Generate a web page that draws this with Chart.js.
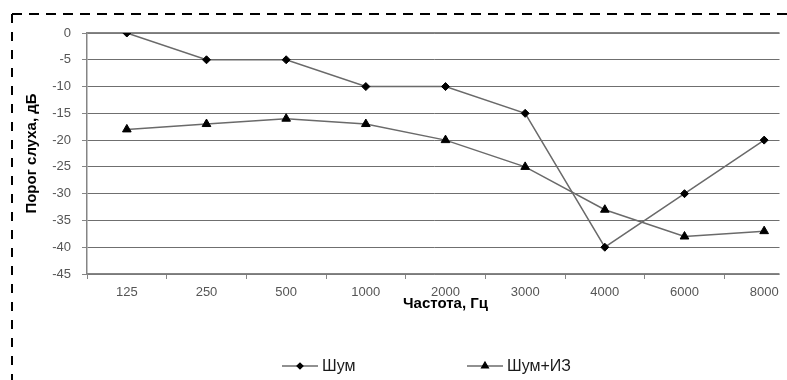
<!DOCTYPE html>
<html>
<head>
<meta charset="utf-8">
<script src="https://cdn.jsdelivr.net/npm/chart.js@4.4.1/dist/chart.umd.min.js"></script>
<style>
  html, body { margin: 0; padding: 0; background: #fff; }
  #wrap { width: 787px; height: 380px; overflow: hidden; position: relative; background: #fff; }
  #c { display: block; }
</style>
</head>
<body>
<div id="wrap"><canvas id="c" width="830" height="380"></canvas></div>
<script>
// Audiogram: hearing threshold by frequency, two conditions
const frequencies = ['125', '250', '500', '1000', '2000', '3000', '4000', '6000', '8000'];
const noise = [0, -5, -5, -10, -10, -15, -40, -30, -20];
const noisePlusIz = [-18, -17, -16, -17, -20, -25, -33, -38, -37];
const seriesNames = ['Шум', 'Шум+ИЗ'];

const FONT = '"Liberation Sans", Arial, sans-serif';
const AXIS_GREY = '#858585';
const LABEL_GREY = '#555555';
const LINE_GREY = '#6a6a6a';

// Plot region stops short of the last category's right edge
const CLIP_RIGHT = 779.5;

const framePlugin = {
  id: 'frame',
  beforeDraw(chart) {
    const ctx = chart.ctx;
    ctx.save();
    ctx.beginPath();
    ctx.rect(0, 0, CLIP_RIGHT, chart.height);
    ctx.clip();
  },
  afterDraw(chart) {
    const ctx = chart.ctx;
    ctx.restore();

    // dashed outer frame (top and left edges)
    ctx.save();
    ctx.strokeStyle = '#000';
    ctx.lineWidth = 2;
    ctx.setLineDash([10, 7]);
    ctx.beginPath();
    ctx.moveTo(12, 14);
    ctx.lineTo(chart.width, 14);
    ctx.stroke();
    ctx.setLineDash([9, 9]);
    ctx.beginPath();
    ctx.moveTo(12, 14);
    ctx.lineTo(12, chart.height);
    ctx.stroke();
    ctx.restore();

    // legend: line sample with marker, then series name
    const items = [
      { x0: 282, x1: 318, tx: 322 },
      { x0: 467, x1: 503, tx: 507 }
    ];
    const y = 366;
    ctx.save();
    chart.data.datasets.forEach((ds, i) => {
      const it = items[i];
      ctx.strokeStyle = '#222';
      ctx.lineWidth = 1.2;
      ctx.beginPath();
      ctx.moveTo(it.x0, y);
      ctx.lineTo(it.x1, y);
      ctx.stroke();
      ctx.fillStyle = '#000';
      ctx.strokeStyle = '#000';
      Chart.helpers.drawPoint(ctx, {
        pointStyle: ds.pointStyle,
        radius: ds.pointRadius - 1,
        borderWidth: 1
      }, (it.x0 + it.x1) / 2, y);
      ctx.fillStyle = '#1a1a1a';
      ctx.font = '16px ' + FONT;
      ctx.textBaseline = 'middle';
      ctx.textAlign = 'left';
      ctx.fillText(ds.label, it.tx, y + 1);
    });
    ctx.restore();
  }
};

new Chart(document.getElementById('c'), {
  type: 'line',
  data: {
    labels: frequencies,
    datasets: [
      {
        label: seriesNames[0],
        data: noise,
        borderColor: LINE_GREY,
        borderWidth: 1.5,
        pointStyle: 'rectRot',
        pointRadius: 4,
        pointBackgroundColor: '#000',
        pointBorderColor: '#000',
        pointBorderWidth: 1,
        tension: 0
      },
      {
        label: seriesNames[1],
        data: noisePlusIz,
        borderColor: LINE_GREY,
        borderWidth: 1.5,
        pointStyle: 'triangle',
        pointRadius: 5,
        pointBackgroundColor: '#000',
        pointBorderColor: '#000',
        pointBorderWidth: 1,
        tension: 0
      }
    ]
  },
  options: {
    responsive: false,
    animation: false,
    devicePixelRatio: 1,
    events: [],
    layout: { padding: { left: 17, top: 33, right: 26, bottom: 67 } },
    plugins: {
      legend: { display: false },
      tooltip: { enabled: false }
    },
    scales: {
      x: {
        type: 'category',
        position: 'bottom',
        offset: true,
        afterFit(scale) { scale.height = 39; },
        grid: {
          offset: true,
          drawOnChartArea: false,
          drawTicks: true,
          tickLength: 5,
          tickColor: AXIS_GREY,
          lineWidth: 1
        },
        border: { display: true, color: AXIS_GREY, width: 1.5 },
        ticks: {
          color: LABEL_GREY,
          font: { family: FONT, size: 13 },
          padding: 6,
          maxRotation: 0,
          autoSkip: false
        },
        title: {
          display: true,
          text: 'Частота, Гц',
          color: '#000',
          font: { family: FONT, size: 15, weight: 'bold' },
          padding: { top: 0, bottom: 0 }
        }
      },
      xTop: {
        type: 'category',
        position: 'top',
        labels: frequencies,
        offset: true,
        afterFit(scale) { scale.height = 0; },
        grid: { display: false, drawTicks: false },
        border: { display: true, color: AXIS_GREY, width: 1.5 },
        ticks: { display: false }
      },
      y: {
        type: 'linear',
        position: 'left',
        min: -45,
        max: 0,
        afterFit(scale) { scale.width = 70; },
        grid: {
          color: '#6f6f6f',
          lineWidth: 1,
          borderDash: [2, 1],
          tickLength: 5,
          tickColor: AXIS_GREY,
          tickBorderDash: [],
          tickWidth: 1
        },
        border: { display: true, color: AXIS_GREY, width: 1.5 },
        ticks: {
          stepSize: 5,
          color: LABEL_GREY,
          font: { family: FONT, size: 13 },
          padding: 11
        },
        title: {
          display: true,
          text: 'Порог слуха, дБ',
          color: '#000',
          font: { family: FONT, size: 15, weight: 'bold' },
          padding: { top: 6, bottom: 0 }
        }
      }
    }
  },
  plugins: [framePlugin]
});
</script>
</body>
</html>
